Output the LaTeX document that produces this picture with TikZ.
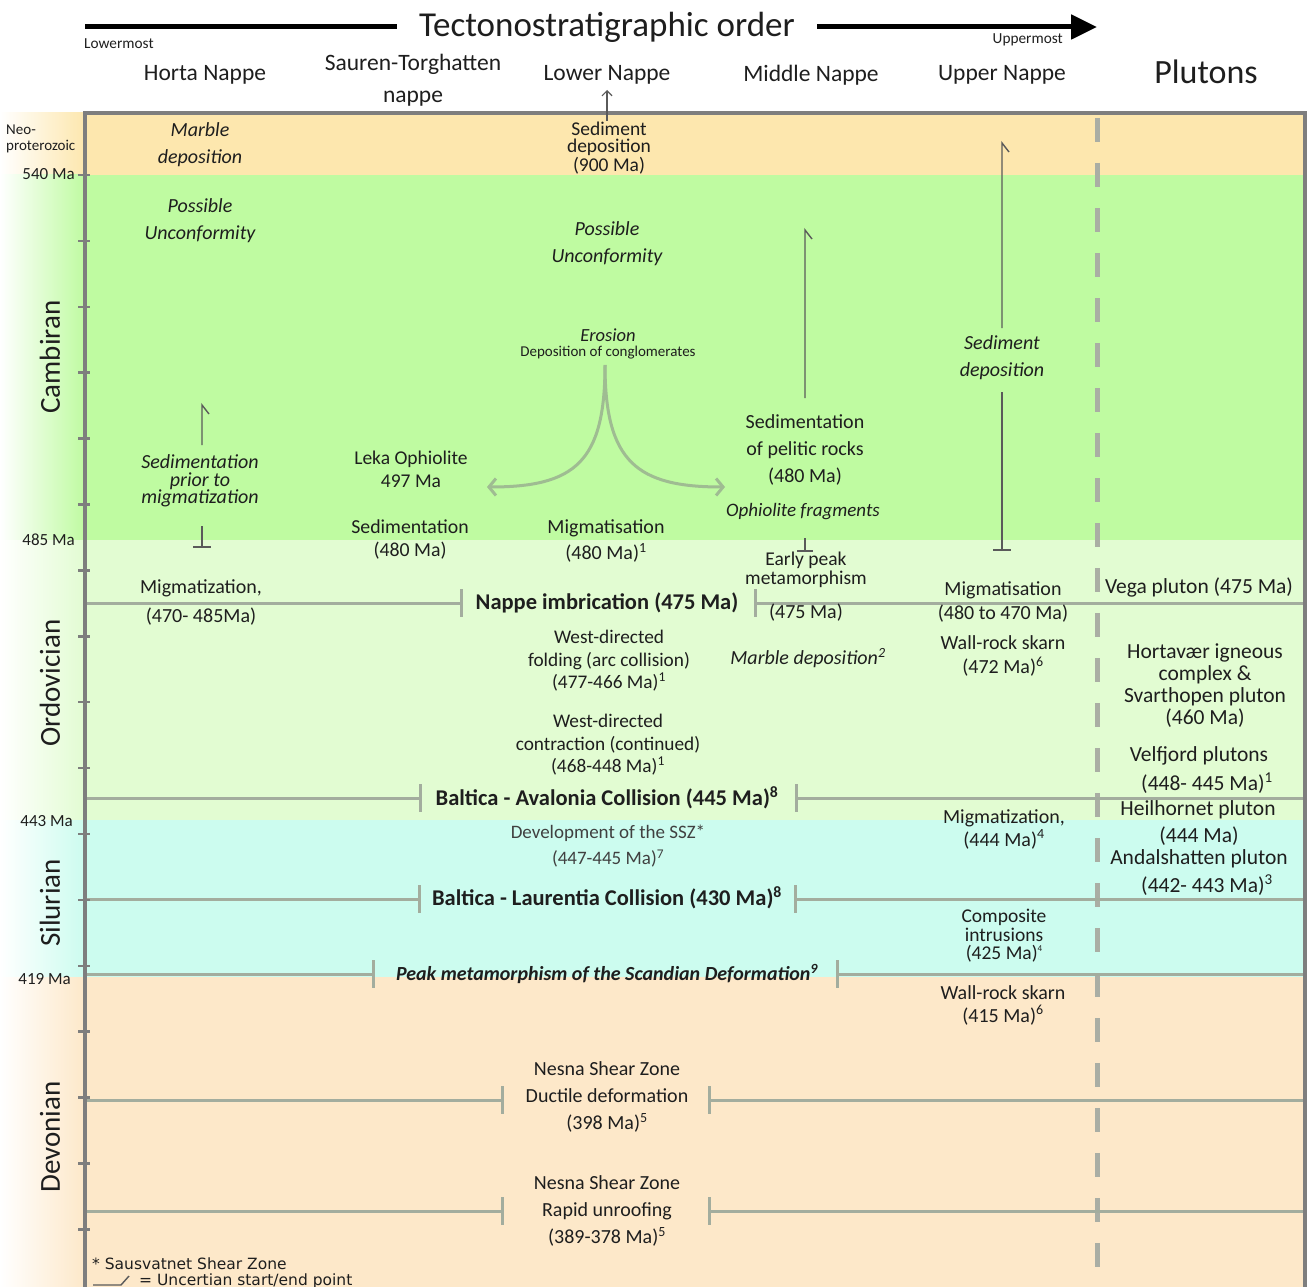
\documentclass[tikz,border=0pt]{standalone}
\usepackage{fontspec}
\setmainfont{Carlito}
\newfontfamily\legendfont{DejaVu Sans}
\usetikzlibrary{arrows.meta}
\definecolor{neo}{HTML}{FDE7AE}
\definecolor{cam}{HTML}{BFFBA1}
\definecolor{ord}{HTML}{E2FCD2}
\definecolor{sil}{HTML}{CCFCEF}
\definecolor{dev}{HTML}{FDE8C9}
\definecolor{tl}{HTML}{A3AD9E}
\definecolor{frm}{HTML}{7E7E7E}
\definecolor{txtc}{HTML}{1E1E1E}
\definecolor{arrc}{HTML}{9FBC92}
\definecolor{dsh}{HTML}{AAAEA4}
\definecolor{rngc}{HTML}{5A5A5A}
\newcommand\fsz[2]{\fontsize{#1}{#2}\selectfont}
\newcommand\tinysup[1]{\raisebox{0.45em}{\fsz{9}{9}#1}}
\begin{document}
\begin{tikzpicture}[x=1pt,y=-1pt,
  every node/.style={inner sep=0pt, text=txtc},
  lbl/.style={align=center, font=\fsz{20}{27}},
  lbli/.style={align=center, font=\fsz{20}{27}\itshape},
  plu/.style={align=center, font=\fsz{21.5}{27}},
  hdr/.style={font=\fsz{23.5}{32}, align=center},
  bold/.style={font=\fsz{22.5}{24}\bfseries},
  age/.style={font=\fsz{17}{18}, anchor=east},
  period/.style={font=\fsz{29}{30}, rotate=90},
  tline/.style={draw=tl, line width=3pt},
  rngl/.style={draw=rngc, line width=1.4pt},
  earr/.style={draw=arrc, line width=3pt, -{Straight Barb[length=7pt,width=17pt]}},
  lgd/.style={font=\legendfont\fsz{15.5}{17}, anchor=west}]
\useasboundingbox (0,0) rectangle (1307,1287);
% bands
\fill[neo] (85,113) rectangle (1307,175);
\fill[cam] (85,175) rectangle (1307,540);
\fill[ord] (85,540) rectangle (1307,820);
\fill[sil] (85,820) rectangle (1307,977);
\fill[dev] (85,977) rectangle (1307,1287);
\shade[left color=white, right color=neo] (0,113) rectangle (85,175);
\shade[left color=white, right color=cam] (0,175) rectangle (85,540);
\shade[left color=white, right color=ord] (0,540) rectangle (85,820);
\shade[left color=white, right color=sil] (0,820) rectangle (85,977);
\shade[left color=white, right color=dev] (0,977) rectangle (85,1287);
% dashed pluton separator
\draw[dsh, line width=5pt, dash pattern=on 24pt off 21pt] (1097,118) -- (1097,1287);
% timelines
\foreach \y/\xa/\xb in {603/461/755, 798/420/796, 899/419/795, 974/373/837, 1100/502/709, 1211/502/709}{
  \coordinate (tL) at (85,\y);
  \coordinate (tA) at (\xa,\y);
  \coordinate (tB) at (\xb,\y);
  \coordinate (tR) at (1305,\y);
  \draw[tline] (tL) -- (tA);
  \draw[tline] (tB) -- (tR);
  \draw[tline] ([yshift=14pt]tA) -- ([yshift=-14pt]tA);
  \draw[tline] ([yshift=14pt]tB) -- ([yshift=-14pt]tB);
}
% frame and ticks
\foreach \i in {0,...,16}{
  \draw[frm, line width=2.5pt] (78,{175+65.9*\i}) -- (90,{175+65.9*\i});
}
\draw[frm, line width=4pt] (85,1290) -- (85,113) -- (1305,113) -- (1305,1290);
% header
\node[font=\fsz{35}{40}, inner xsep=22pt] (title) at (607,27) {Tectonostratigraphic order};
\coordinate (aL) at (85,27);
\coordinate (aR) at (1097,27);
\draw[line width=5pt] (aL) -- (title.west);
\draw[line width=5pt, -{Triangle[length=26pt,width=24pt]}] (title.east) -- (aR);
\node[font=\fsz{15.3}{16}, anchor=west] (lowm) at (84,44) {Lowermost};
\node[font=\fsz{15.3}{16}, anchor=east] (uppm) at (1063,40) {Uppermost};
\node[hdr] (hH) at (205,75) {Horta Nappe};
\node[hdr] (hS) at (413,80) {Sauren-Torghatten\\nappe};
\node[hdr] (hL) at (607,75) {Lower Nappe};
\node[hdr] (hM) at (811,75) {Middle Nappe};
\node[hdr] (hU) at (1002,75) {Upper Nappe};
\node[font=\fsz{34}{36}] (hP) at (1206,72) {Plutons};
% left axis labels
\node[font=\fsz{15}{16}, align=left, anchor=west] (neo) at (6,139) {Neo-\\proterozoic};
\node[age] (a540) at (75,174) {540 Ma};
\node[age] (a485) at (75,540) {485 Ma};
\node[age] (a443) at (73,821) {443 Ma};
\node[age] (a419) at (71,979) {419 Ma};
\node[period] (pC) at (50,357) {Cambiran};
\node[period] (pO) at (50,683) {Ordovician};
\node[period] (pS) at (50,903) {Silurian};
\node[period] (pD) at (50,1137) {Devonian};
% Horta Nappe
\node[lbli] (h1) at (200,145) {Marble\\deposition};
\node[lbli] (h2) at (200,221) {Possible\\Unconformity};
\node[lbli, font=\fsz{20}{17.5}\itshape] (h3) at (200,481) {Sedimentation\\prior to\\migmatization};
\node[lbl] (h4) at (201,588) {Migmatization,};
\node[lbl] (h5) at (201,617) {(470- 485Ma)};
\coordinate (hA) at (202,445);
\coordinate (hB) at (202,405);
\draw[rngl] (hA) -- (hB) -- ++(7,9);
\coordinate (hC) at (202,526);
\coordinate (hD) at (202,547);
\draw[rngl] (hC) -- (hD);
\draw[rngl] ([xshift=-9pt]hD) -- ([xshift=9pt]hD);
% Sauren-Torghatten
\node[lbl, font=\fsz{19.5}{23}] (s1) at (411,469) {Leka Ophiolite\\497 Ma};
\node[lbl, font=\fsz{19.8}{23}] (s2) at (410,539) {Sedimentation\\(480 Ma)};
% Lower Nappe
\node[lbl, font=\fsz{19.5}{17}] (l1) at (609,148) {Sediment\\deposition\\(900 Ma)};
\coordinate (lA) at (607,121);
\coordinate (lB) at (607,90);
\draw[rngl, line width=1.2pt, -{Straight Barb[length=5pt,width=10pt]}] (lA) -- (lB);
\node[lbli] (l2) at (607,244) {Possible\\Unconformity};
\node[lbli, font=\fsz{18.5}{20}\itshape] (l3) at (608,335) {Erosion};
\node[lbl, font=\fsz{15}{16}] (l4) at (608,353) {Deposition of conglomerates};
\coordinate (eA) at (605,365);
\coordinate (eL) at (487,487);
\coordinate (eR) at (725,487);
\draw[earr] (eA) .. controls (605,462) and (575,487) .. (eL);
\draw[earr] (eA) .. controls (605,462) and (637,487) .. (eR);
\node[lbl, font=\fsz{20}{26}] (l5) at (606,541) {Migmatisation\\(480 Ma)\textsuperscript{1}};
\node[bold] (nappe) at (607,603) {Nappe imbrication (475 Ma)};
\node[lbl, font=\fsz{19.3}{22.5}] (l6) at (609,661) {West-directed\\folding (arc collision)\\(477-466 Ma)\textsuperscript{1}};
\node[lbl, font=\fsz{19.3}{22.5}] (l7) at (608,745) {West-directed\\contraction (continued)\\(468-448 Ma)\textsuperscript{1}};
\node[bold] (bav) at (607,798) {Baltica - Avalonia Collision (445 Ma)\textsuperscript{8}};
\node[lbl, font=\fsz{19}{26}, text=black!75] (ssz) at (608,846) {Development of the SSZ*\\(447-445 Ma)\textsuperscript{7}};
\node[bold] (bla) at (607,898) {Baltica - Laurentia Collision (430 Ma)\textsuperscript{8}};
\node[font=\fsz{20}{24}\bfseries\itshape] (peak) at (607,974) {Peak metamorphism of the Scandian Deformation\textsuperscript{9}};
\node[lbl] (n1) at (607,1097) {Nesna Shear Zone\\Ductile deformation\\(398 Ma)\textsuperscript{5}};
\node[lbl] (n2) at (607,1211) {Nesna Shear Zone\\Rapid unroofing\\(389-378 Ma)\textsuperscript{5}};
% Middle Nappe
\coordinate (mA) at (805,398);
\coordinate (mB) at (805,230);
\draw[rngl] (mA) -- (mB) -- ++(7,9);
\node[lbl] (m1) at (805,450) {Sedimentation\\of pelitic rocks\\(480 Ma)};
\node[lbli, font=\fsz{19}{20}\itshape] (m2) at (803,512) {Ophiolite fragments};
\coordinate (mC) at (805,538);
\coordinate (mD) at (805,551);
\draw[rngl] (mC) -- (mD);
\draw[rngl] ([xshift=-8pt]mD) -- ([xshift=8pt]mD);
\node[lbl, font=\fsz{19.5}{19}] (m3) at (806,570) {Early peak\\metamorphism};
\node[lbl] (m4) at (806,613) {(475 Ma)};
\node[lbli] (m5) at (808,658) {Marble deposition\textsuperscript{2}};
% Upper Nappe
\coordinate (uA) at (1002,328);
\coordinate (uB) at (1002,143);
\draw[rngl] (uA) -- (uB) -- ++(7,9);
\node[lbli] (u1) at (1002,358) {Sediment\\deposition};
\coordinate (uC) at (1002,392);
\coordinate (uD) at (1002,550);
\draw[rngl] (uC) -- (uD);
\draw[rngl] ([xshift=-9pt]uD) -- ([xshift=9pt]uD);
\node[lbl, font=\fsz{20}{24}] (u2) at (1003,602) {Migmatisation\\(480 to 470 Ma)};
\node[lbl, font=\fsz{20}{24}] (u3) at (1003,656) {Wall-rock skarn\\(472 Ma)\textsuperscript{6}};
\node[lbl, font=\fsz{20}{23}] (u4) at (1004,829) {Migmatization,\\(444 Ma)\textsuperscript{4}};
\node[lbl, font=\fsz{19.5}{18.5}] (u5) at (1004,936) {Composite\\intrusions\\(425 Ma)\tinysup{4}};
\node[lbl, font=\fsz{20}{23}] (u6) at (1003,1005) {Wall-rock skarn\\(415 Ma)\textsuperscript{6}};
% Plutons
\node[plu] (p1) at (1199,587) {Vega pluton (475 Ma)};
\node[plu, font=\fsz{21.5}{22}] (p2) at (1205,686) {Hortavær igneous\\complex \&\\Svarthopen pluton\\(460 Ma)};
\node[plu] (p3) at (1199,756) {Velfjord plutons};
\node[plu] (p4) at (1207,783) {(448- 445 Ma)\textsuperscript{1}};
\node[plu] (p5) at (1198,810) {Heilhornet pluton};
\node[plu] (p6) at (1199,836) {(444 Ma)};
\node[plu] (p7) at (1199,859) {Andalshatten pluton};
\node[plu] (p8) at (1207,885) {(442- 443 Ma)\textsuperscript{3}};
% legend
\node[lgd] (lg1) at (92,1264) {* Sausvatnet Shear Zone};
\coordinate (lgA) at (93,1285);
\coordinate (lgB) at (121,1285);
\draw[rngl] (lgA) -- (lgB) -- ++(8,-9);
\node[lgd] (lg2) at (139,1281) {= Uncertian start/end point};
\end{tikzpicture}
\end{document}
